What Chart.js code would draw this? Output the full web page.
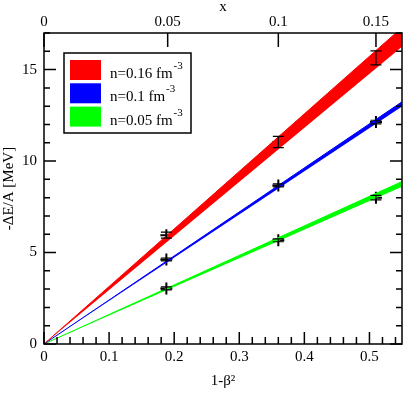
<!DOCTYPE html>
<html>
<head>
<meta charset="utf-8">
<script src="https://cdn.jsdelivr.net/npm/chart.js"></script>
<style>
  html, body { margin: 0; padding: 0; background: #fff; }
  #wrap { width: 405px; height: 393px; }
</style>
</head>
<body>
<div id="wrap"><canvas id="myChart"></canvas></div>
<script>
// bands: straight lines from the origin, lower/upper edge at x=0 and x=0.55
const bandX = [0, 0.55];
const redLow = [0, 16.25];
const redHigh = [0, 17.3];
const blueLow = [0, 12.98];
const blueHigh = [0, 13.24];
const greenLow = [0, 8.6];
const greenHigh = [0, 8.88];

// points with error bars
const pointX = [0.188, 0.36, 0.51];
const redPoints = [5.95, 11.04, 15.64];
const redErr = [0.16, 0.31, 0.38];
const bluePoints = [4.62, 8.67, 12.13];
const blueErr = [0.08, 0.08, 0.1];
const greenPoints = [3.04, 5.67, 8.0];
const greenErr = [0.08, 0.08, 0.12];

const bandLabels = ['n=0.16 fm', 'n=0.1 fm', 'n=0.05 fm'];
const bandPower = '-3';
const bandColors = ['#ff0000', '#0000ff', '#00ff00'];

const xTicks = [0, 0.1, 0.2, 0.3, 0.4, 0.5];
const yTicks = [0, 5, 10, 15];
const topTickPos = [0, 0.19, 0.36, 0.51];
const topTickLabels = ['0', '0.05', '0.1', '0.15'];

const serif = "'Liberation Serif', 'DejaVu Serif', serif";
Chart.defaults.font.family = serif;
Chart.defaults.color = '#000';

function xy(xs, ys) {
  return xs.map((x, i) => ({ x: x, y: ys[i] }));
}

function edge(data) {
  return { data: data, borderWidth: 0, pointRadius: 0, fill: false };
}

function band(data, color) {
  return { data: data, borderWidth: 1, borderColor: color, backgroundColor: color, pointRadius: 0, fill: '-1' };
}

function points(data, err) {
  return {
    data: data, err: err, showLine: false,
    pointStyle: 'cross', pointRadius: 6, pointBorderWidth: 2,
    borderColor: '#000', backgroundColor: '#000'
  };
}

// frame, inward ticks, error bars
const axisDecor = {
  id: 'axisDecor',
  afterDatasetsDraw(chart) {
    const ctx = chart.ctx;
    const a = chart.chartArea;
    const sx = chart.scales.x, sy = chart.scales.y;
    ctx.save();
    ctx.strokeStyle = '#000';
    ctx.lineWidth = 1.2;
    chart.data.datasets.forEach(ds => {
      if (!ds.err) return;
      ds.data.forEach((p, i) => {
        const px = sx.getPixelForValue(p.x);
        const y1 = sy.getPixelForValue(p.y - ds.err[i]);
        const y2 = sy.getPixelForValue(p.y + ds.err[i]);
        ctx.beginPath();
        ctx.moveTo(px, y1); ctx.lineTo(px, y2);
        ctx.moveTo(px - 5.5, y1); ctx.lineTo(px + 5.5, y1);
        ctx.moveTo(px - 5.5, y2); ctx.lineTo(px + 5.5, y2);
        ctx.stroke();
      });
    });

    ctx.lineWidth = 1.5;
    ctx.strokeRect(a.left, a.top, a.right - a.left, a.bottom - a.top);

    ctx.beginPath();
    for (let k = 0; k * 0.02 <= 0.55 + 1e-9; k++) {
      const px = sx.getPixelForValue(k * 0.02);
      const len = k % 5 === 0 ? 12 : 7;
      ctx.moveTo(px, a.bottom); ctx.lineTo(px, a.bottom - len);
    }
    topTickPos.forEach(v => {
      const px = sx.getPixelForValue(v);
      ctx.moveTo(px, a.top); ctx.lineTo(px, a.top + 14);
    });
    for (let k = 0; k <= 17; k++) {
      const py = sy.getPixelForValue(k);
      const len = k % 5 === 0 ? 12 : 6;
      ctx.moveTo(a.left, py); ctx.lineTo(a.left + len, py);
      ctx.moveTo(a.right, py); ctx.lineTo(a.right - len, py);
    }
    ctx.stroke();
    ctx.restore();
  },
  afterDraw(chart) {
    const ctx = chart.ctx;
    ctx.save();
    ctx.fillStyle = '#fff';
    ctx.fillRect(64, 53, 127, 80);
    ctx.strokeStyle = '#000';
    ctx.lineWidth = 1.5;
    ctx.strokeRect(64, 53, 127, 80);
    bandLabels.forEach((lab, i) => {
      const top = 60 + i * 23.3;
      ctx.fillStyle = bandColors[i];
      ctx.fillRect(70, top, 31, 20);
      ctx.fillStyle = '#000';
      ctx.font = '15px ' + serif;
      ctx.textBaseline = 'alphabetic';
      ctx.fillText(lab, 110, top + 18);
      const w = ctx.measureText(lab).width;
      ctx.font = '11px ' + serif;
      ctx.fillText(bandPower, 110 + w + 1, top + 9);
    });
    ctx.restore();
  }
};

// keep the plot area at fixed pixels
function fixX(h) {
  return s => { s.height = h; s.paddingLeft = 0; s.paddingRight = 0; };
}

const ctx = document.getElementById('myChart');

const myChart = new Chart(ctx, {
  type: 'line',
  data: {
    datasets: [
      edge(xy(bandX, redLow)), band(xy(bandX, redHigh), bandColors[0]),
      edge(xy(bandX, blueLow)), band(xy(bandX, blueHigh), bandColors[1]),
      edge(xy(bandX, greenLow)), band(xy(bandX, greenHigh), bandColors[2]),
      points(xy(pointX, redPoints), redErr),
      points(xy(pointX, bluePoints), blueErr),
      points(xy(pointX, greenPoints), greenErr)
    ]
  },
  options: {
    responsive: true,
    maintainAspectRatio: false,
    devicePixelRatio: 1,
    animation: false,
    layout: { autoPadding: false, padding: { left: 0, right: 3, top: 0, bottom: 0 } },
    plugins: { legend: { display: false }, tooltip: { enabled: false } },
    scales: {
      x: {
        type: 'linear', position: 'bottom', min: 0, max: 0.55,
        grid: { display: false, drawTicks: false }, border: { display: false },
        afterBuildTicks: s => { s.ticks = xTicks.map(v => ({ value: v })); },
        ticks: { font: { size: 15 }, padding: 4, callback: v => String(v) },
        title: { display: true, text: '1-β²', font: { size: 15 }, padding: { top: 0, bottom: 3 } },
        afterFit: fixX(49)
      },
      x2: {
        type: 'linear', position: 'top', min: 0, max: 0.55,
        grid: { display: false, drawTicks: false }, border: { display: false },
        afterBuildTicks: s => { s.ticks = topTickPos.map(v => ({ value: v })); },
        ticks: { font: { size: 15 }, padding: 2, callback: (v, i) => topTickLabels[i] },
        title: { display: true, text: 'x', font: { size: 15 }, padding: { top: -2, bottom: 0 } },
        afterFit: fixX(33)
      },
      y: {
        type: 'linear', position: 'left', min: 0, max: 17,
        grid: { display: false, drawTicks: false }, border: { display: false },
        afterBuildTicks: s => { s.ticks = yTicks.map(v => ({ value: v })); },
        ticks: { font: { size: 15 }, padding: 7, callback: v => String(v) },
        title: { display: true, text: '-ΔE/A [MeV]', font: { size: 15 }, padding: { top: 0, bottom: 0 } },
        afterFit: s => { s.width = 44; }
      }
    }
  },
  plugins: [axisDecor]
});
</script>
</body>
</html>
